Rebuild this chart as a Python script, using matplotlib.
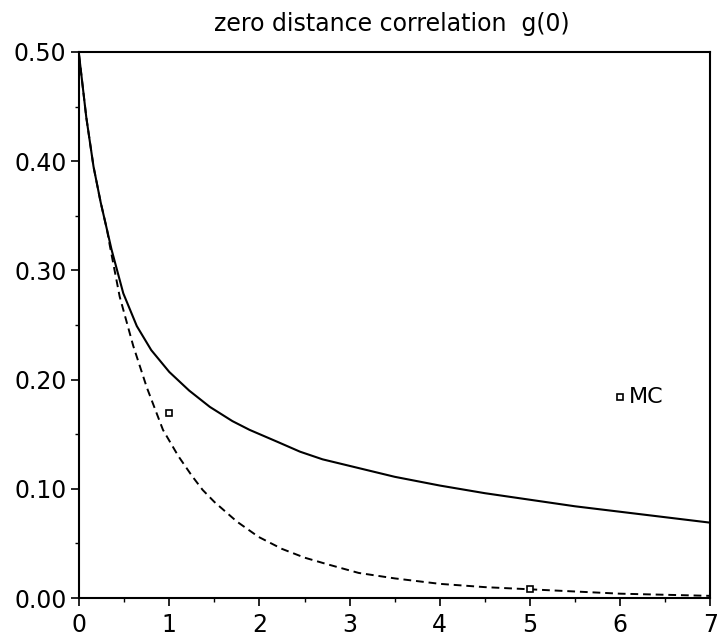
# zero distance correlation g(0)

import matplotlib.pyplot as plt
import numpy as np

# curva continua
x_solida = [0.0, 0.08, 0.16, 0.24, 0.31, 0.36, 0.49, 0.64, 0.8, 1.0, 1.22, 1.45, 1.7, 1.89, 2.2, 2.45, 2.7, 3.0, 3.5, 4.0, 4.5, 5.0, 5.5, 6.0, 6.5, 7.0]
y_solida = [0.497, 0.44, 0.395, 0.362, 0.337, 0.319, 0.279, 0.249, 0.227, 0.207, 0.190, 0.175, 0.162, 0.154, 0.143, 0.134, 0.127, 0.121, 0.111, 0.103, 0.096, 0.090, 0.084, 0.079, 0.074, 0.069]

# curva tracejada
x_tracejada = [0.0, 0.08, 0.16, 0.24, 0.31, 0.34, 0.45, 0.6, 0.75, 0.93, 1.1, 1.25, 1.37, 1.5, 1.75, 1.99, 2.25, 2.5, 2.75, 3.1, 3.5, 4.0, 4.5, 5.0, 5.5, 6.0, 6.5, 7.0]
y_tracejada = [0.497, 0.44, 0.395, 0.362, 0.337, 0.323, 0.276, 0.231, 0.193, 0.154, 0.130, 0.112, 0.099, 0.088, 0.070, 0.056, 0.045, 0.037, 0.031, 0.023, 0.018, 0.013, 0.010, 0.008, 0.006, 0.004, 0.003, 0.002]

# pontos MC
x_mc = [1.0, 5.0]
y_mc = [0.169, 0.008]

titulo = 'zero distance correlation  g(0)'
xticks = [0, 1, 2, 3, 4, 5, 6, 7]
yticks = [0.0, 0.1, 0.2, 0.3, 0.4, 0.5]
ytick_labels = ['0.00', '0.10', '0.20', '0.30', '0.40', '0.50']

fig = plt.figure(figsize=(7.19, 6.41), dpi=100)
ax = fig.add_axes([0.11, 0.067, 0.878, 0.852])

ax.plot(x_solida, y_solida, color='black', linewidth=1.5)
ax.plot(x_tracejada, y_tracejada, color='black', linewidth=1.4, dashes=(4, 2.5))
ax.plot(x_mc, y_mc, linestyle='none', marker='s', markersize=4,
        markerfacecolor='white', markeredgecolor='black', markeredgewidth=1.2)

# legenda manual
ax.plot([6.0], [0.184], linestyle='none', marker='s', markersize=4,
        markerfacecolor='white', markeredgecolor='black', markeredgewidth=1.2)
ax.text(6.1, 0.184, 'MC', fontsize=16, va='center', ha='left')

ax.set_xlim(0, 7)
ax.set_ylim(0, 0.5)
ax.set_xticks(xticks)
ax.set_xticks(np.arange(0.5, 7, 1), minor=True)
ax.set_yticks(yticks)
ax.set_yticklabels(ytick_labels)
ax.set_yticks(np.arange(0.05, 0.5, 0.1), minor=True)
ax.tick_params(axis='both', which='major', direction='out', length=6, width=1.2, labelsize=17, pad=3)
ax.tick_params(axis='x', which='major', pad=5)
ax.tick_params(axis='both', which='minor', direction='out', length=3, width=1.0)
for s in ax.spines.values():
    s.set_linewidth(1.5)

fig.text(0.545, 0.962, titulo, ha='center', va='center', fontsize=17)

plt.savefig('out.png', dpi=100)
